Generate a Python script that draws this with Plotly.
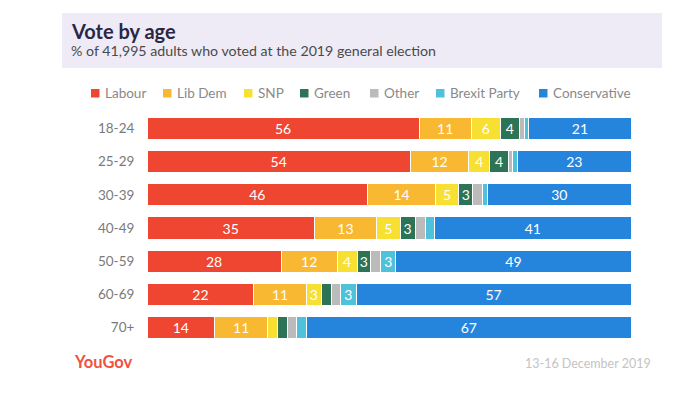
import plotly.graph_objects as go

ages = ["18-24", "25-29", "30-39", "40-49", "50-59", "60-69", "70+"]
parties = ["Labour", "Lib Dem", "SNP", "Green", "Other", "Brexit Party", "Conservative"]
labour = [56.2, 54.4, 45.6, 34.6, 27.7, 22.1, 14.0]
libdem = [10.8, 12.1, 14.0, 12.8, 11.6, 10.8, 10.9]
snp = [6.0, 4.3, 4.8, 4.9, 4.1, 3.1, 2.0]
green = [3.9, 3.9, 2.9, 3.1, 2.8, 2.1, 2.1]
other = [1.0, 0.9, 2.1, 2.1, 2.1, 1.9, 1.9]
brexit = [1.0, 1.0, 1.0, 1.9, 3.1, 3.2, 2.1]
conservative = [21.1, 23.4, 29.6, 40.6, 48.6, 56.8, 67.0]
colors = ["#EE4631", "#F9B832", "#F8E032", "#2D7355", "#BBBBBB", "#4FC1DA", "#2585DC"]

series = [labour, libdem, snp, green, other, brexit, conservative]

W, H = 685, 393
OFF = 8  # page body margin
PW, PH = 484, 232
ML, MT = 147 - OFF, 112 - OFF
MR = W - ML - PW
MB = H - MT - PH


def px(x):
    return (x - OFF - ML) / PW


def py(y):
    return (MT + PH - (y - OFF)) / PH


FONT = "Lato"
legend_x = [91, 163, 244, 300, 370, 436, 539]  # pixel positions of legend squares

fig = go.Figure()
for name, vals, col in zip(parties, series, colors):
    fig.add_trace(go.Bar(
        y=ages, x=vals, name=name, orientation="h",
        marker=dict(color=col, line=dict(color="white", width=1)),
        text=[f"{v:.0f}" if v >= 2.5 else "" for v in vals],
        textposition="inside", insidetextanchor="middle", textangle=0,
        textfont=dict(color="white", size=14, family=FONT),
        hoverinfo="skip", showlegend=False,
    ))

shapes = [dict(type="rect", xref="paper", yref="paper", x0=px(62), x1=px(662),
               y0=py(68), y1=py(13), fillcolor="#EEEBF6", line=dict(width=0), layer="below")]
annotations = [
    dict(text="<b>Vote by age</b>", xref="paper", yref="paper", x=px(69), y=py(31),
         xanchor="left", yanchor="middle", showarrow=False,
         font=dict(size=20, color="#2A2745", family=FONT)),
    dict(text="% of 41,995 adults who voted at the 2019 general election", xref="paper", yref="paper",
         x=px(69), y=py(50), xanchor="left", yanchor="middle", showarrow=False,
         font=dict(size=14.2, color="#4a4a4a", family=FONT)),
    dict(text="<b>YouGov</b>", xref="paper", yref="paper", x=px(72), y=py(362),
         xanchor="left", yanchor="middle", showarrow=False,
         font=dict(size=16.5, color="#F0523F", family=FONT)),
    dict(text="13-16 December 2019", xref="paper", yref="paper", x=px(653), y=py(363),
         xanchor="right", yanchor="middle", showarrow=False,
         font=dict(size=12.5, color="#c4c4c4", family=FONT)),
]
for name, col, lx in zip(parties, colors, legend_x):
    shapes.append(dict(type="rect", xref="paper", yref="paper", x0=px(lx), x1=px(lx + 8.5),
                       y0=py(97.5), y1=py(89), fillcolor=col, line=dict(width=0)))
    annotations.append(dict(text=name, xref="paper", yref="paper", x=px(lx + 12), y=py(93),
                            xanchor="left", yanchor="middle", showarrow=False,
                            font=dict(size=13.5, color="#8a8a8a", family=FONT)))

fig.update_layout(
    width=W, height=H, barmode="stack", bargap=0.33,
    margin=dict(l=ML, r=MR, t=MT, b=MB, autoexpand=False),
    paper_bgcolor="white", plot_bgcolor="white",
    font=dict(family=FONT, color="#777777"),
    uniformtext=dict(minsize=14, mode="show"),
    showlegend=False,
    xaxis=dict(range=[0, 100], visible=False, fixedrange=True),
    yaxis=dict(autorange="reversed", showgrid=False, showline=False, zeroline=False,
               ticks="outside", ticklen=9, tickcolor="rgba(0,0,0,0)",
               tickfont=dict(size=13.5, color="#7a7a7a", family=FONT)),
    shapes=shapes,
    annotations=annotations,
)

fig.write_html("out.html")
